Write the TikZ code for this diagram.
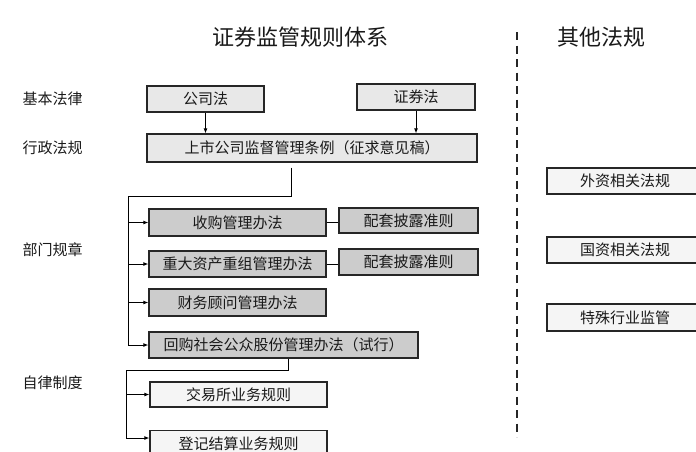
\documentclass[tikz,border=0pt]{standalone}
\usepackage{fontspec}
\newfontfamily\cjk{Noto Sans CJK SC}
\usetikzlibrary{arrows.meta}
\begin{document}
\begin{tikzpicture}[x=1pt,y=-1pt,
    font=\cjk\fontsize{15}{18}\selectfont,
    box/.style={draw=black!85, line width=1.2pt, fill=black!9, inner sep=0pt, minimum height=26pt, text=black!90},
    darkbox/.style={box, fill=black!20},
    lightbox/.style={box, fill=black!4},
    arr/.style={-{Latex[length=5pt,width=4pt]}, line width=1pt},
    line/.style={line width=1pt},
    title/.style={font=\cjk\fontsize{22}{26}\selectfont, text=black!90},
    lbl/.style={text=black!90}]
     \useasboundingbox (0,0) rectangle (696,451);
     \node[title] (tz) at (300,37) {证券监管规则体系};
     \node[title] (tq) at (601,37) {其他法规};
     \node[lbl] (l1) at (52.5,99) {基本法律};
     \node[lbl] (l2) at (52.5,148) {行政法规};
     \node[lbl] (l3) at (52.5,250) {部门规章};
     \node[lbl] (l4) at (52.5,383) {自律制度};
     \node[box, minimum width=117pt] (gsf) at (205.5,99) {公司法};
     \node[box, minimum width=118pt] (zqf) at (416,97) {证券法};
     \node[box, minimum width=330pt, minimum height=28pt] (tl) at (312,148) {上市公司监督管理条例（征求意见稿）};
     \node[darkbox, minimum width=177pt, minimum height=27pt] (sg) at (237.5,222.5) {收购管理办法};
     \node[darkbox, minimum width=139pt, minimum height=25pt] (pt1) at (408.5,220.5) {配套披露准则};
     \node[darkbox, minimum width=177pt] (zz) at (237.5,264) {重大资产重组管理办法};
     \node[darkbox, minimum width=139pt] (pt2) at (408.5,262) {配套披露准则};
     \node[darkbox, minimum width=177pt, minimum height=27pt] (cw) at (237.5,302.5) {财务顾问管理办法};
     \node[darkbox, minimum width=269pt] (hg) at (283.5,345) {回购社会公众股份管理办法（试行）};
     \node[lightbox, minimum width=177pt, minimum height=25pt] (jys) at (238.5,394.5) {交易所业务规则};
     \node[lightbox, minimum width=177pt] (dj) at (238.5,443.5) {登记结算业务规则};
     \node[lightbox, minimum width=156pt] (wz) at (625,181) {外资相关法规};
     \node[lightbox, minimum width=156pt] (gz) at (625,250) {国资相关法规};
     \node[lightbox, minimum width=156pt, minimum height=27pt] (ts) at (625,317.5) {特殊行业监管};
     \draw[arr] (gsf.south) -- (gsf.south |- tl.north);
     \draw[arr] (zqf.south) -- (zqf.south |- tl.north);
     \coordinate (j1) at (128,196);
     \draw[line] ([xshift=-21pt,yshift=-5pt]tl.south) |- (j1) -- (j1 |- hg.west);
     \foreach \n in {sg,zz,cw,hg}
       \draw[arr] (j1 |- \n.west) -- (\n.west);
     \draw[line] (sg.east) -- (sg.east -| pt1.west);
     \draw[line] (zz.east) -- (zz.east -| pt2.west);
     \coordinate (j2) at (126,370);
     \draw[line] ([xshift=4.5pt]hg.south) |- (j2) -- ([yshift=5.5pt]j2 |- dj.west);
     \draw[arr] (j2 |- jys.west) -- (jys.west);
     \draw[arr] ([yshift=5.5pt]j2 |- dj.west) -- ([yshift=5.5pt]dj.west);
     \draw[line width=1.3pt, dash pattern=on 8pt off 5.5pt, black!85] (517,32) -- (517,437);
\end{tikzpicture}
\end{document}
